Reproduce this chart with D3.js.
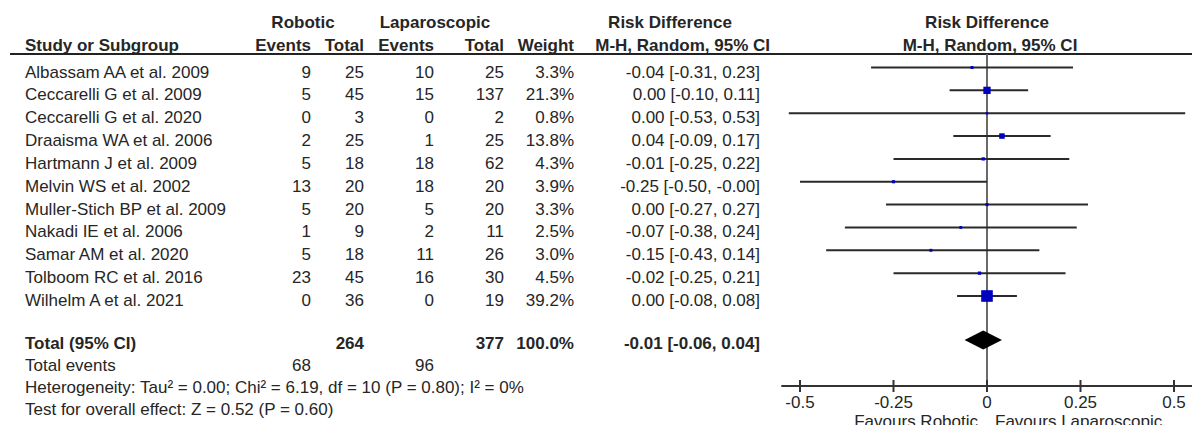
<!DOCTYPE html>
<html>
<head>
<meta charset="utf-8">
<script src="https://cdn.jsdelivr.net/npm/d3@7"></script>
<style>
  html, body { margin: 0; padding: 0; background: #fff; }
  svg { display: block; }
  text { font-family: "Liberation Sans", Arial, sans-serif; font-size: 17px; fill: #262626; }
  .b { font-weight: bold; }
</style>
</head>
<body>
<svg id="chart" width="1192" height="425"></svg>
<script>
// ---------------- data ----------------
const studies = ["Albassam AA et al. 2009", "Ceccarelli G et al. 2009", "Ceccarelli G et al. 2020",
  "Draaisma WA et al. 2006", "Hartmann J et al. 2009", "Melvin WS et al. 2002",
  "Muller-Stich BP et al. 2009", "Nakadi IE et al. 2006", "Samar AM et al. 2020",
  "Tolboom RC et al. 2016", "Wilhelm A et al. 2021"];
const robEvents = [9, 5, 0, 2, 5, 13, 5, 1, 5, 23, 0];
const robTotal  = [25, 45, 3, 25, 18, 20, 20, 9, 18, 45, 36];
const lapEvents = [10, 15, 0, 1, 18, 18, 5, 2, 11, 16, 0];
const lapTotal  = [25, 137, 2, 25, 62, 20, 20, 11, 26, 30, 19];
const weights   = [3.3, 21.3, 0.8, 13.8, 4.3, 3.9, 3.3, 2.5, 3.0, 4.5, 39.2];
const rd        = [-0.04, 0.00, 0.00, 0.04, -0.01, -0.25, 0.00, -0.07, -0.15, -0.02, 0.00];
const ciLow     = [-0.31, -0.10, -0.53, -0.09, -0.25, -0.50, -0.27, -0.38, -0.43, -0.25, -0.08];
const ciHigh    = [0.23, 0.11, 0.53, 0.17, 0.22, -0.00, 0.27, 0.24, 0.14, 0.21, 0.08];

const totalRobN = 264, totalLapN = 377, totalWeight = 100.0;
const totalRobEvents = 68, totalLapEvents = 96;
const pooled = [-0.01, -0.06, 0.04]; // estimate, low, high
const tickValues = [-0.5, -0.25, 0, 0.25, 0.5];
const tickLabels = ["-0.5", "-0.25", "0", "0.25", "0.5"];
const heterogeneityText = "Heterogeneity: Tau² = 0.00; Chi² = 6.19, df = 10 (P = 0.80); I² = 0%";
const overallText = "Test for overall effect: Z = 0.52 (P = 0.60)";

// ---------------- helpers ----------------
const fmt = v => ((v < 0 || Object.is(v, -0)) ? "-" : "") + Math.abs(v).toFixed(2);
const ciLabel = (e, l, h) => `${fmt(e)} [${fmt(l)}, ${fmt(h)}]`;

const svg = d3.select("#chart");

// columns (right-aligned x positions)
const col = { name: 25, robE: 311, robT: 364, lapE: 434, lapT: 504, wt: 574, ci: 760 };

// row scale: text baselines
const rowY = d3.scaleLinear().domain([0, studies.length - 1]).range([77.5, 306]);
const markY = i => rowY(i) - 10; // visual centre of plotted line

// forest x scale
const x = d3.scaleLinear().domain([-0.5, 0.5]).range([800, 1174]);
const size = d3.scaleLinear().domain([0, 40]).range([2.2, 11.8]);

// ---------------- headers ----------------
const hdr = svg.append("g");
hdr.append("text").attr("class", "b").attr("x", 303).attr("y", 28).attr("text-anchor", "middle").text("Robotic");
hdr.append("text").attr("class", "b").attr("x", 435).attr("y", 28).attr("text-anchor", "middle").text("Laparoscopic");
hdr.append("text").attr("class", "b").attr("x", 670).attr("y", 28).attr("text-anchor", "middle").text("Risk Difference");
hdr.append("text").attr("class", "b").attr("x", x(0)).attr("y", 28).attr("text-anchor", "middle").text("Risk Difference");

const h2 = [
  ["Study or Subgroup", col.name, "start"],
  ["Events", col.robE, "end"], ["Total", col.robT, "end"],
  ["Events", col.lapE, "end"], ["Total", col.lapT, "end"],
  ["Weight", col.wt, "end"], ["M-H, Random, 95% CI", 770, "end"],
  ["M-H, Random, 95% CI", x(0) + 3, "middle"]
];
hdr.selectAll("text.h2").data(h2).join("text")
  .attr("class", "b h2").attr("x", d => d[1]).attr("y", 50.5)
  .attr("text-anchor", d => d[2]).text(d => d[0]);

svg.append("line").attr("x1", 10).attr("x2", 1192).attr("y1", 54).attr("y2", 54)
  .attr("stroke", "#222").attr("stroke-width", 2);

// ---------------- study rows ----------------
const rows = svg.append("g").selectAll("g").data(studies).join("g");
const cells = (i) => [
  [studies[i], col.name, "start"],
  [robEvents[i], col.robE, "end"], [robTotal[i], col.robT, "end"],
  [lapEvents[i], col.lapE, "end"], [lapTotal[i], col.lapT, "end"],
  [weights[i].toFixed(1) + "%", col.wt, "end"],
  [ciLabel(rd[i], ciLow[i], ciHigh[i]), col.ci, "end"]
];
rows.each(function(_, i) {
  d3.select(this).selectAll("text").data(cells(i)).join("text")
    .attr("x", d => d[1]).attr("y", rowY(i))
    .attr("text-anchor", d => d[2]).text(d => d[0]);
});

// ---------------- totals ----------------
const yTotal = 349;
const tot = svg.append("g");
[["Total (95% CI)", col.name, "start"], [totalRobN, col.robT, "end"], [totalLapN, col.lapT, "end"],
 [totalWeight.toFixed(1) + "%", col.wt, "end"], [ciLabel(pooled[0], pooled[1], pooled[2]), col.ci, "end"]]
  .forEach(d => tot.append("text").attr("class", "b").attr("x", d[1]).attr("y", yTotal)
    .attr("text-anchor", d[2]).text(d[0]));
[["Total events", col.name, "start"], [totalRobEvents, col.robE, "end"], [totalLapEvents, col.lapE, "end"]]
  .forEach(d => tot.append("text").attr("x", d[1]).attr("y", 371).attr("text-anchor", d[2]).text(d[0]));
tot.append("text").attr("x", col.name).attr("y", 393).text(heterogeneityText);
tot.append("text").attr("x", col.name).attr("y", 415).text(overallText);

// ---------------- forest plot ----------------
const axisY = 386;
const plot = svg.append("g");
plot.append("line").attr("x1", x(0)).attr("x2", x(0)).attr("y1", 54).attr("y2", axisY)
  .attr("stroke", "#6a6a6a").attr("stroke-width", 2);

plot.selectAll("line.ci").data(studies).join("line").attr("class", "ci")
  .attr("x1", (d, i) => x(ciLow[i])).attr("x2", (d, i) => x(ciHigh[i]))
  .attr("y1", (d, i) => markY(i)).attr("y2", (d, i) => markY(i))
  .attr("stroke", "#2a2a2a").attr("stroke-width", 2);

plot.selectAll("rect.pt").data(studies).join("rect").attr("class", "pt")
  .attr("x", (d, i) => x(rd[i]) - size(weights[i]) / 2)
  .attr("y", (d, i) => markY(i) - size(weights[i]) / 2)
  .attr("width", (d, i) => size(weights[i]))
  .attr("height", (d, i) => size(weights[i]))
  .attr("fill", "#0000c0");

// pooled diamond
const dY = yTotal - 9, dH = 9.5;
plot.append("path")
  .attr("d", `M${x(pooled[1])},${dY} L${x(pooled[0])},${dY - dH} L${x(pooled[2])},${dY} L${x(pooled[0])},${dY + dH} Z`)
  .attr("fill", "#000");

// axis
const axisG = plot.append("g");
axisG.append("line").attr("x1", x(-0.55)).attr("x2", x(0.55)).attr("y1", axisY).attr("y2", axisY)
  .attr("stroke", "#333").attr("stroke-width", 2);
axisG.selectAll("line.tick").data(tickValues).join("line").attr("class", "tick")
  .attr("x1", d => x(d)).attr("x2", d => x(d)).attr("y1", axisY - 6).attr("y2", axisY + 6)
  .attr("stroke", "#333").attr("stroke-width", 2);
axisG.selectAll("text.tl").data(tickValues).join("text").attr("class", "tl")
  .attr("x", d => x(d)).attr("y", 408).attr("text-anchor", "middle")
  .text((d, i) => tickLabels[i]);

plot.append("text").attr("x", x(0) - 9).attr("y", 427).attr("text-anchor", "end").text("Favours Robotic");
plot.append("text").attr("x", x(0) + 8).attr("y", 427).attr("text-anchor", "start").text("Favours Laparoscopic");
</script>
</body>
</html>
